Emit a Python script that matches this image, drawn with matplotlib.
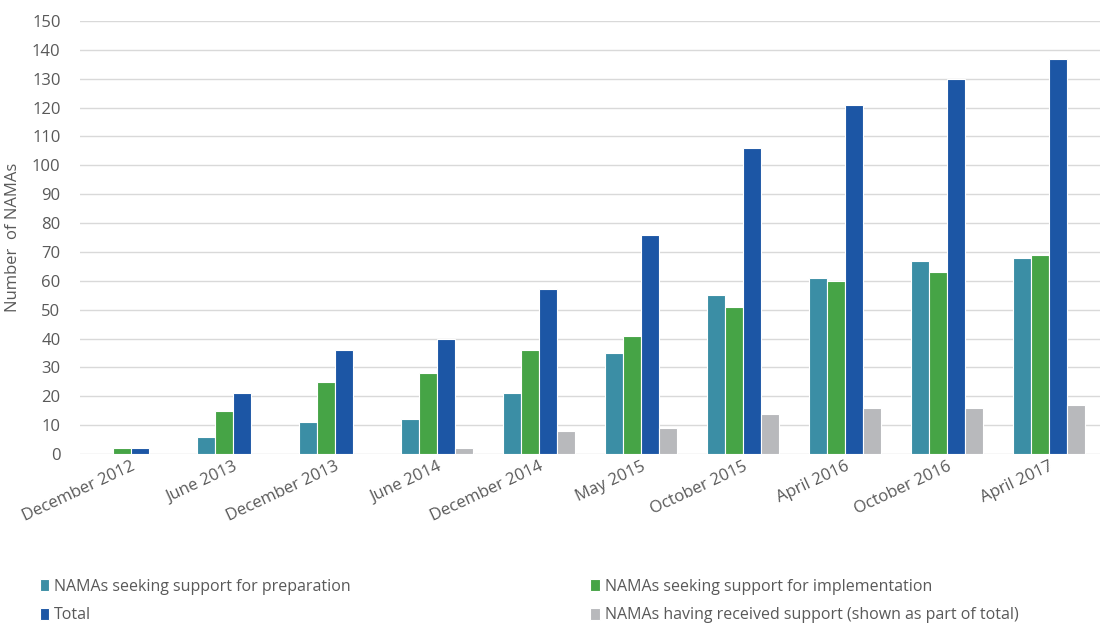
import numpy as np
import matplotlib.pyplot as plt

# NAMA counts per reporting date
periods = ["December 2012", "June 2013", "December 2013", "June 2014",
           "December 2014", "May 2015", "October 2015", "April 2016",
           "October 2016", "April 2017"]
preparation = [0, 6, 11, 12, 21, 35, 55, 61, 67, 68]
implementation = [2, 15, 25, 28, 36, 41, 51, 60, 63, 69]
total = [2, 21, 36, 40, 57, 76, 106, 121, 130, 137]
received = [0, 0, 0, 2, 8, 9, 14, 16, 16, 17]

series = [
    ("NAMAs seeking support for preparation", preparation, "#3b8ea5"),
    ("NAMAs seeking support for implementation", implementation, "#46a446"),
    ("Total", total, "#1c56a5"),
    ("NAMAs having received support (shown as part of total)", received, "#b8b9bc"),
]

plt.rcParams["font.family"] = ["Open Sans", "DejaVu Sans"]
TEXT = "#595959"

fig = plt.figure(figsize=(11, 6.24), dpi=100)
ax = fig.add_axes([80 / 1100, 1 - 454 / 624, 1 - 80 / 1100, (454 - 21) / 624])

x = np.arange(len(periods))
w = 0.175
handles = []
for i, (name, vals, col) in enumerate(series):
    b = ax.bar(x + (i - 1.5) * w, vals, width=w, color=col,
               edgecolor="white", linewidth=0.8, zorder=3, label=name)
    handles.append(b)

ax.set_xlim(-0.5, len(periods) - 0.5)
ax.set_ylim(0, 150)
ax.set_yticks(np.arange(0, 151, 10))
ax.grid(axis="y", color="#d9d9d9", linewidth=1, zorder=0)
for s in ax.spines.values():
    s.set_visible(False)
ax.tick_params(axis="both", length=0, colors=TEXT, labelsize=12)
ax.tick_params(axis="y", pad=14)

ax.set_xticks(x)
ax.set_xticklabels(periods, rotation=25, ha="right", rotation_mode="anchor")
ax.set_ylabel("Number  of NAMAs", color=TEXT, fontsize=12, labelpad=8)

order = [0, 2, 1, 3]
leg = fig.legend([handles[i] for i in order], [series[i][0] for i in order],
                 ncol=2, loc="lower left", bbox_to_anchor=(0.023, -0.022),
                 frameon=False, fontsize=11.5, handlelength=0.6, handleheight=0.8,
                 handletextpad=0.3, columnspacing=15.0, labelspacing=0.8)
for t in leg.get_texts():
    t.set_color(TEXT)

fig.savefig("out.png", dpi=100)
